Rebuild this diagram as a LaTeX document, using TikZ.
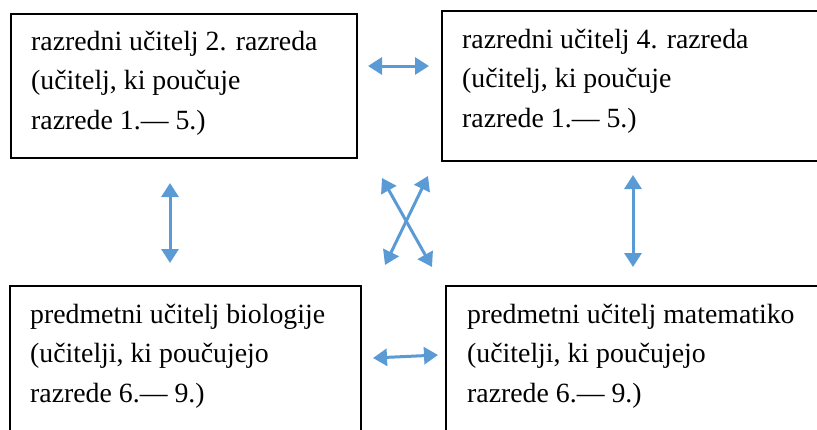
\documentclass[tikz,border=0pt]{standalone}
\usepackage{fontspec}
\setmainfont{Liberation Serif}
\usetikzlibrary{arrows.meta}
\definecolor{arrowblue}{HTML}{5B9BD5}
\tikzset{
  box/.style={draw=black, line width=1.5pt, anchor=north west, inner sep=0pt},
  label text/.style={anchor=base west, align=left, inner sep=0pt,
    font=\fontsize{27.8}{39.5}\selectfont},
  link/.style={draw=arrowblue, line width=3pt,
    {Triangle[length=14pt,width=17pt]}-{Triangle[length=14pt,width=17pt]}}
}
\begin{document}
\begin{tikzpicture}[x=1pt,y=-1pt]
\useasboundingbox (0,0) rectangle (817,429);
% boxes
\node[box, minimum width=346pt, minimum height=144pt] (tl) at (10,13) {};
\node[box, minimum width=400pt, minimum height=150pt] (tr) at (441,10) {};
\node[box, minimum width=351pt, minimum height=170pt] (bl) at (9,285) {};
\node[box, minimum width=400pt, minimum height=170pt] (br) at (445,285) {};
% texts (anchored at the baseline of the last line)
\node[label text] (tlt) at (31,129) {razredni učitelj 2. razreda\\(učitelj, ki poučuje\\razrede 1.— 5.)};
\node[label text] (trt) at (462,127) {razredni učitelj 4. razreda\\(učitelj, ki poučuje\\razrede 1.— 5.)};
\node[label text] (blt) at (30,402) {predmetni učitelj biologije\\(učitelji, ki poučujejo\\razrede 6.— 9.)};
\node[label text] (brt) at (467,402) {predmetni učitelj matematiko\\(učitelji, ki poučujejo\\razrede 6.— 9.)};
% arrow end points
\coordinate (a1) at (368,66);  \coordinate (a2) at (429,66);
\coordinate (b1) at (373,358); \coordinate (b2) at (438,355);
\coordinate (c1) at (170,183); \coordinate (c2) at (170,263);
\coordinate (d1) at (633,175); \coordinate (d2) at (633,267);
\coordinate (e1) at (382,178); \coordinate (e2) at (432,267);
\coordinate (f1) at (428,176); \coordinate (f2) at (385,265);
\draw[link] (a1) -- (a2);
\draw[link] (b1) -- (b2);
\draw[link] (c1) -- (c2);
\draw[link] (d1) -- (d2);
\draw[link] (e1) -- (e2);
\draw[link] (f1) -- (f2);
\end{tikzpicture}
\end{document}
